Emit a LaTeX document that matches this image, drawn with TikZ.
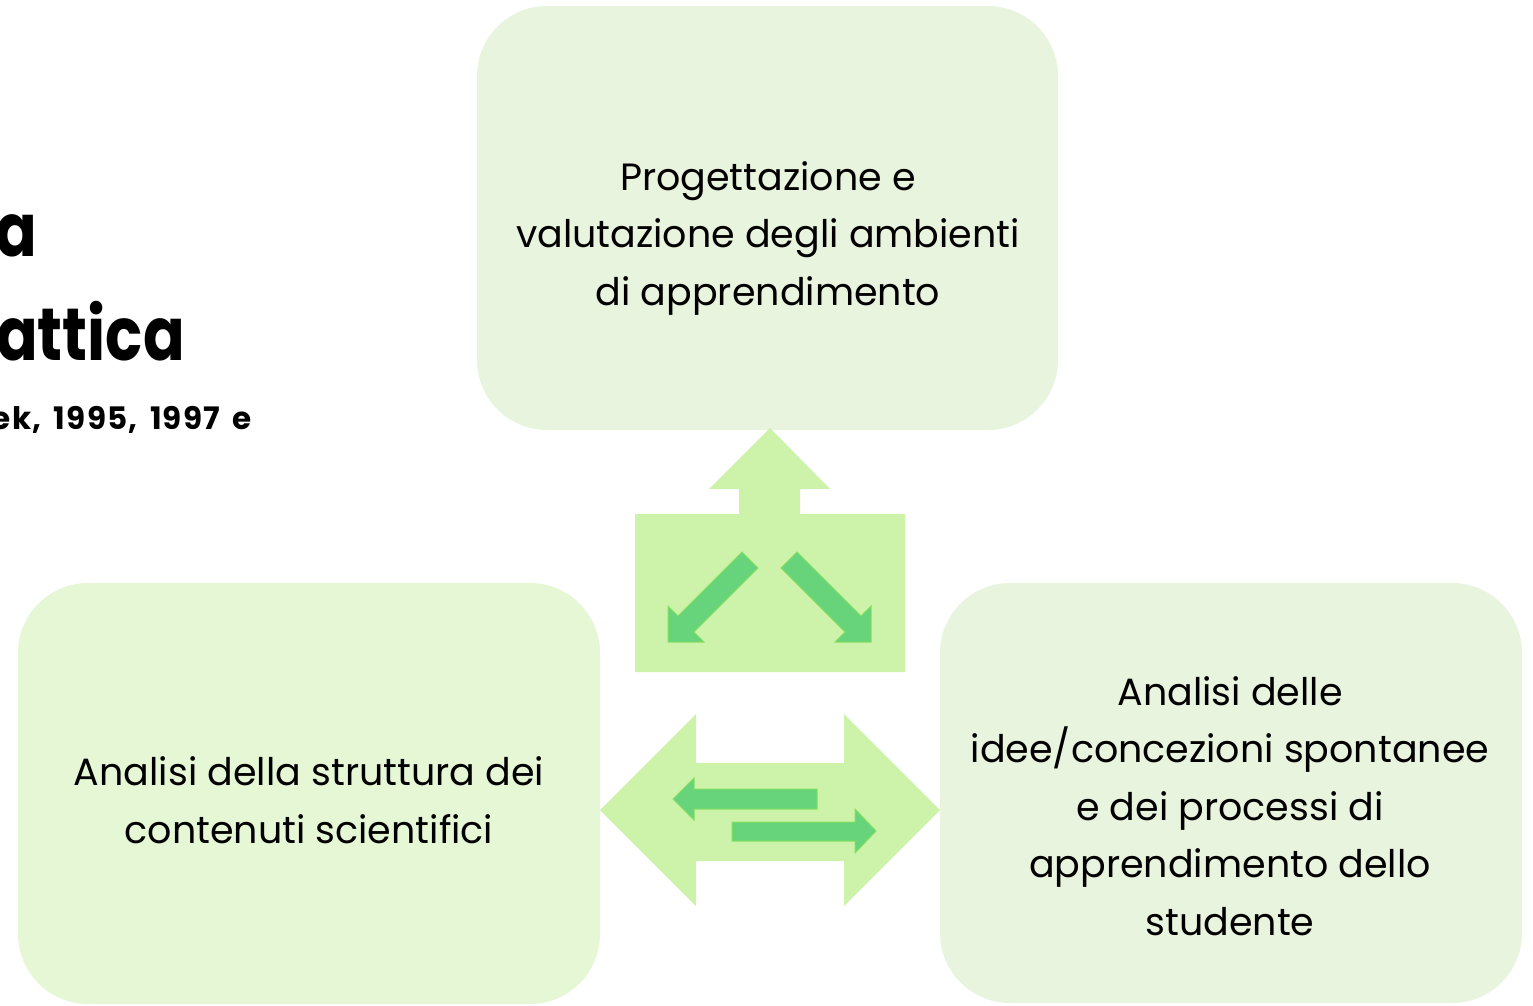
\documentclass[tikz,border=0pt]{standalone}
\usepackage{fontspec}
\setmainfont{Poppins}
\newfontfamily\titlefont{Poppins}[FakeStretch=0.83]
\newfontfamily\subtitlefont{Poppins}[LetterSpace=4,WordSpace=1.6]
\definecolor{boxA}{HTML}{E8F4DE}
\definecolor{boxB}{HTML}{E5F7D5}
\definecolor{lightarr}{HTML}{CDF2AA}
\definecolor{darkarr}{HTML}{67D37B}
\definecolor{darkedge}{HTML}{86E05F}
\tikzset{
  greenbox/.style={fill=boxA, draw=none, rounded corners=70pt},
  boxtext/.style={align=center, font=\fontsize{38}{57.5}\selectfont, text=black},
  titletext/.style={anchor=base east, inner sep=0pt, text=black},
  bigarrow/.style={fill=lightarr, draw=none},
  smallarrow/.style={fill=darkarr, draw=darkedge, line width=1pt, line join=miter},
}
\begin{document}
\begin{tikzpicture}[x=1pt,y=-1pt]
\useasboundingbox (0,0) rectangle (1533,1005);
\clip (0,0) rectangle (1533,1005);
% boxes
\fill[greenbox] (477,6) rectangle (1058,430);
\fill[greenbox, fill=boxB] (18,583) rectangle (600,1004);
\fill[greenbox] (940,583) rectangle (1522,1003);
\node[boxtext] (top) at (768,238) {Progettazione e\\valutazione degli ambienti\\di apprendimento};
\node[boxtext] (left) at (309,800) {Analisi della struttura dei\\contenuti scientifici};
\node[boxtext] (right) at (1230,806) {Analisi delle\\idee/concezioni spontanee\\e dei processi di\\apprendimento dello\\studente};
% title fragments
\node[titletext, font=\titlefont\fontsize{74}{100}\selectfont\bfseries] (t1) at (37,256) {a};
\node[titletext, font=\titlefont\fontsize{74}{100}\selectfont\bfseries] (t2) at (185,360) {attica};
\node[titletext, font=\subtitlefont\fontsize{31}{36}\selectfont\bfseries] (t3) at (252,429) {ek, 1995, 1997 e};
% up arrow with box
\fill[bigarrow] (770,428) -- (830,489) -- (800,489) -- (800,514) -- (905,514) -- (905,672) -- (635,672) -- (635,514) -- (739,514) -- (739,489) -- (709,489) -- cycle;
% diagonal arrows
\filldraw[smallarrow] (742,552) -- (678,616) -- (668,606) -- (668,642) -- (704,642) -- (694,632) -- (758,568) -- cycle;
\filldraw[smallarrow] (797,552) -- (861,616) -- (871,606) -- (871,642) -- (835,642) -- (845,632) -- (781,568) -- cycle;
% double arrow
\fill[bigarrow] (600,810) -- (696,714) -- (696,763) -- (844,763) -- (844,714) -- (940,810) -- (844,906) -- (844,861) -- (696,861) -- (696,906) -- cycle;
\filldraw[smallarrow] (673,799) -- (694,778) -- (694,789) -- (817,789) -- (817,809) -- (694,809) -- (694,820) -- cycle;
\filldraw[smallarrow] (876,831) -- (855,809) -- (855,822) -- (732,822) -- (732,841) -- (855,841) -- (855,853) -- cycle;
\end{tikzpicture}
\end{document}
